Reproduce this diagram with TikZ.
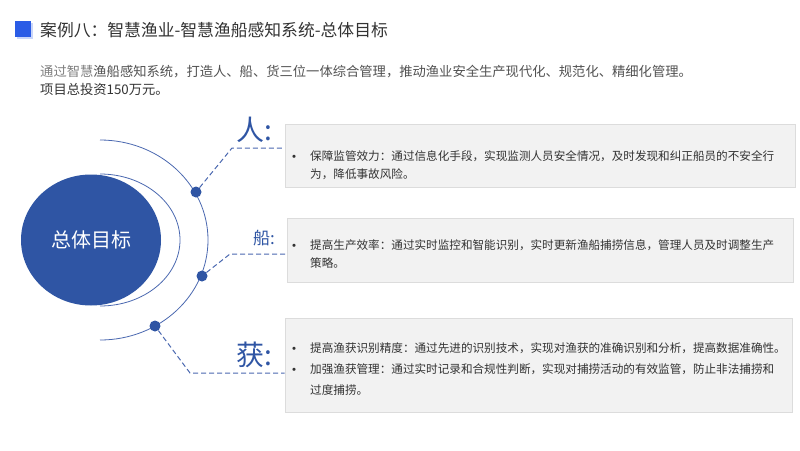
\documentclass[tikz,border=0pt]{standalone}
\usepackage{fontspec}
\setmainfont{Noto Sans CJK SC}
\usetikzlibrary{positioning, shapes.geometric}
\definecolor{goalblue}{HTML}{2F55A4}
\definecolor{arcblue}{HTML}{4A68B0}
\definecolor{markblue}{HTML}{2B5CE6}
\definecolor{boxgray}{HTML}{F2F2F2}
\definecolor{boxline}{HTML}{DCDCDC}
\definecolor{txt}{HTML}{333333}
\tikzstyle{goal}=[ellipse, fill=goalblue, text=white, minimum width=140pt, minimum height=131pt, font=\fontsize{20}{20}\selectfont]
\tikzstyle{hubdot}=[circle, fill=goalblue, minimum size=11pt, inner sep=0pt]
\tikzstyle{link}=[draw=arcblue, line width=1pt, dash pattern=on 5pt off 3pt]
\tikzstyle{tag}=[text=goalblue, inner sep=0pt, anchor=west]
\tikzstyle{panel}=[draw=boxline, fill=boxgray, rectangle, line width=0.6pt, inner sep=0pt]
\tikzstyle{line}=[text=txt, inner sep=0pt, anchor=west, font=\fontsize{11.6}{14}\selectfont]
\tikzstyle{bullet}=[text=txt, inner sep=0pt, font=\fontsize{15}{15}\selectfont]

\begin{document}
\begin{tikzpicture}[x=1pt, y=-1pt]
            \fill[white] (0,0) rectangle (800,450);
            \useasboundingbox (0,0) rectangle (800,450);
            \fill[markblue!25] (17,23) rectangle (33,39);
            \fill[markblue] (15,21) rectangle (31,37);
            \node[anchor=west, inner sep=0pt, text=txt, font=\fontsize{16.8}{18}\selectfont] (title) at (40,30) {案例八：智慧渔业-智慧渔船感知系统-总体目标};
            \node[anchor=west, inner sep=0pt, text=txt!85, font=\fontsize{13.3}{15}\selectfont] (intro) at (40,72) {{\color{gray}通过智慧}渔船感知系统，打造人、船、货三位一体综合管理，推动渔业安全生产现代化、规范化、精细化管理。};
            \node[anchor=west, inner sep=0pt, text=txt, font=\fontsize{13.3}{15}\selectfont] (cost) at (40,89) {项目总投资150万元。};

            \node[goal] (goal) at (91,240) {总体目标};
            \draw[arcblue, line width=0.8pt] (100,174) arc[start angle=90, end angle=-90, x radius=80pt, y radius=66pt];
            \draw[arcblue, line width=0.8pt] (100,140) arc[start angle=90, end angle=-90, x radius=108pt, y radius=100pt];

            \node[hubdot] (d1) at (196,192) {};
            \node[hubdot] (d2) at (202,276) {};
            \node[hubdot] (d3) at (155,326) {};
            \coordinate (k1) at (232,148);
            \coordinate (k2) at (230,254);
            \coordinate (k3) at (190,373);

            \node[tag, font=\fontsize{28}{28}\selectfont] (ren) at (236,130) {人:};
            \node[tag, font=\fontsize{17}{17}\selectfont] (chuan) at (253,238) {船:};
            \node[tag, font=\fontsize{28}{28}\selectfont] (huo) at (236,355) {获:};

            \node[panel, minimum width=510pt, minimum height=63pt] (p1) at (540,155.5) {};
            \node[panel, minimum width=506pt, minimum height=64pt] (p2) at (540,250) {};
            \node[panel, minimum width=507pt, minimum height=94pt] (p3) at (538.5,365) {};

            \draw[link] (d1) -- (k1) -- (k1 -| p1.west);
            \draw[link] (d2) -- (k2) -- (k2 -| p2.west);
            \draw[link] (d3) -- (k3) -- (k3 -| p3.west);

            \node[bullet] (b1) at (294,158.5) {•};
            \node[line] (t1a) at (310,156) {保障监管效力：通过信息化手段，实现监测人员安全情况，及时发现和纠正船员的不安全行};
            \node[line] (t1b) at (310,174) {为，降低事故风险。};
            \node[bullet] (b2) at (294,247.5) {•};
            \node[line] (t2a) at (310,245) {提高生产效率：通过实时监控和智能识别，实时更新渔船捕捞信息，管理人员及时调整生产};
            \node[line] (t2b) at (310,263) {策略。};
            \node[bullet] (b3) at (294,350.5) {•};
            \node[line] (t3a) at (310,348) {提高渔获识别精度：通过先进的识别技术，实现对渔获的准确识别和分析，提高数据准确性。};
            \node[bullet] (b4) at (294,371.5) {•};
            \node[line] (t4a) at (310,369) {加强渔获管理：通过实时记录和合规性判断，实现对捕捞活动的有效监管，防止非法捕捞和};
            \node[line] (t4b) at (310,390) {过度捕捞。};
        \end{tikzpicture}
\end{document}
